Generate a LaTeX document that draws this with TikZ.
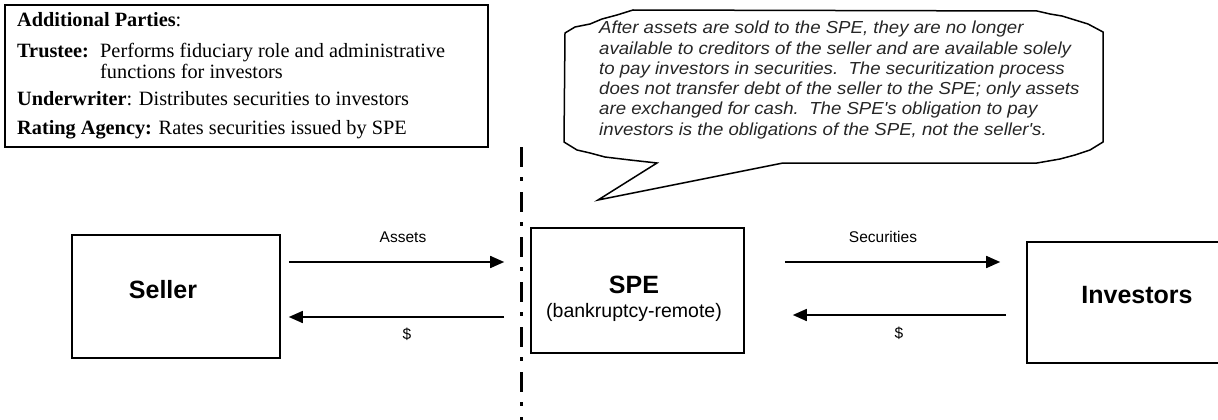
\documentclass[tikz,border=0pt]{standalone}
\usepackage{fontspec}
\setmainfont{Liberation Serif}
\newfontfamily\arial{Liberation Sans}
\newfontfamily\arialwide[FakeStretch=1.07]{Liberation Sans}
\usetikzlibrary{arrows.meta,calc}
\tikzset{
  box/.style={draw, line width=1.6pt, rectangle, inner sep=0pt},
  arr/.style={line width=1.6pt, -{Triangle[length=14pt,width=12pt]}},
  flowlbl/.style={font=\arial\fontsize{15.5}{16}\selectfont, inner sep=0pt},
  boxlbl/.style={font=\arial\bfseries\fontsize{25}{26}\selectfont, inner sep=0pt},
  partytxt/.style={font=\fontsize{20.3}{20}\selectfont, anchor=base west, inner sep=0pt},
  calltxt/.style={font=\arialwide\itshape\fontsize{17.4}{17.4}\selectfont, anchor=base west, inner sep=0pt, text=black!85},
  divider/.style={line width=3pt, dash pattern=on 20pt off 10pt on 4pt off 11pt},
}
\begin{document}
\begin{tikzpicture}[x=1pt,y=-1pt]
\useasboundingbox (0,0) rectangle (1218,420);

% Additional parties box
\node[box, line width=1.8pt, minimum width=483pt, minimum height=142pt, anchor=north west] (parties) at (4,4) {};
\node[partytxt] (pt1) at (17,27) {\textbf{Additional Parties}:};
\node[partytxt] (pt2) at (17,58) {\textbf{Trustee:}};
\node[partytxt] (pt3) at (100,58) {Performs fiduciary role and administrative};
\node[partytxt] (pt4) at (100,78) {functions for investors};
\node[partytxt] (pt5) at (17,106) {\textbf{Underwriter}: Distributes securities to investors};
\node[partytxt] (pt6) at (17,134) {\textbf{Rating Agency:} Rates securities issued by SPE};

% Callout
\draw[line width=1.5pt, fill=white]
  (633,10) -- (1037,11) -- (1050,14) -- (1062,16) -- (1075,20) -- (1088,24) -- (1103,32)
  -- (1103,142) -- (1090,150) -- (1075,155) -- (1060,159) -- (1037,163)
  -- (783,163) -- (598,200) -- (657,163)
  -- (630,160) -- (605,157) -- (590,153) -- (577,150) -- (564,142)
  -- (565,33) -- (575,27) -- (590,24) -- (602,19) -- (617,15) -- cycle;
\node[calltxt] (c1) at (599,34) {After assets are sold to the SPE, they are no longer};
\node[calltxt] (c2) at (599,54.2) {available to creditors of the seller and are available solely};
\node[calltxt] (c3) at (599,74.4) {to pay investors in securities.\ \ The securitization process};
\node[calltxt] (c4) at (599,94.6) {does not transfer debt of the seller to the SPE; only assets};
\node[calltxt] (c5) at (599,114.8) {are exchanged for cash.\ \ The SPE's obligation to pay};
\node[calltxt] (c6) at (599,135) {investors is the obligations of the SPE, not the seller's.};

% Divider
\draw[divider] (521,147) -- (521,425);

% Boxes
\node[box, minimum width=208pt, minimum height=123pt] (seller) at (176,296.5) {};
\node[boxlbl] (sellerlbl) at (163,290) {Seller};
\node[box, minimum width=213pt, minimum height=125pt] (spe) at (637.5,290.5) {};
\node[boxlbl] (spelbl) at (634,285) {SPE};
\node[flowlbl, font=\arial\fontsize{19.5}{20}\selectfont] (spesub) at (634,312) {(bankruptcy-remote)};
\node[box, minimum width=220pt, minimum height=121pt] (inv) at (1137,302.5) {};
\node[boxlbl] (invlbl) at (1137,295) {Investors};

% Arrows
\draw[arr] ($(seller.east)+(8,-34.5)$) -- ($(spe.west)+(-26,-28.5)$);
\draw[arr] ($(spe.west)+(-26,26.5)$) -- ($(seller.east)+(8,20.5)$);
\draw[arr] ($(spe.east)+(40,-28.5)$) -- ($(inv.west)+(-26,-40.5)$);
\draw[arr] ($(inv.west)+(-20,12.5)$) -- ($(spe.east)+(48,24.5)$);

\node[flowlbl] (l1) at (403,237) {Assets};
\node[flowlbl] (l2) at (407,334) {\$};
\node[flowlbl] (l3) at (883,237) {Securities};
\node[flowlbl] (l4) at (899,333) {\$};
\end{tikzpicture}
\end{document}
